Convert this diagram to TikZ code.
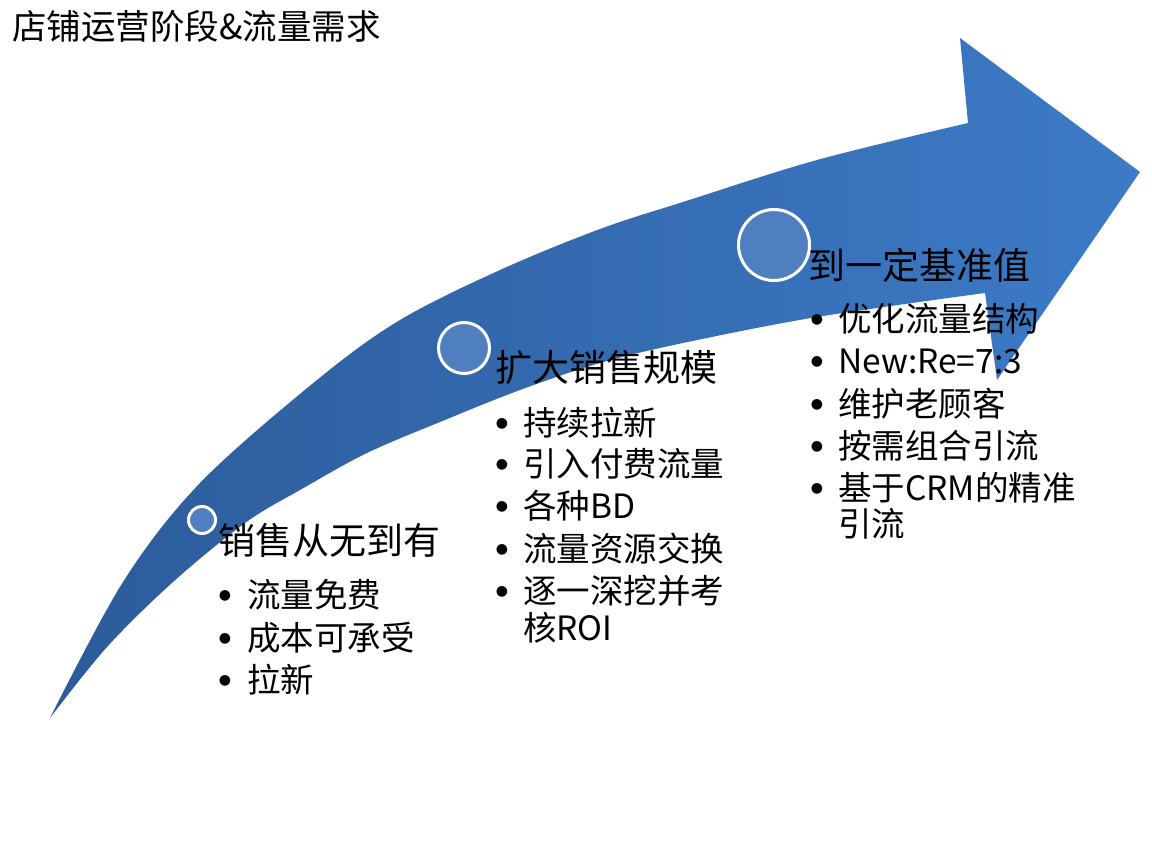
\documentclass[tikz,border=0pt]{standalone}
\usepackage{fontspec}
\setmainfont{Noto Sans CJK SC}
\newfontfamily\dotfont{DejaVu Sans}
\definecolor{arrowdark}{HTML}{2C5B9A}
\definecolor{arrowlight}{HTML}{3D7BC7}
\definecolor{dotfill}{HTML}{4F7FBE}
\begin{document}
\begin{tikzpicture}[x=1pt,y=-1pt,
  titletext/.style={anchor=base west, inner sep=0pt, font=\fontsize{34.5}{36}\selectfont},
  heading/.style={anchor=base west, inner sep=0pt, font=\fontsize{37}{40}\selectfont},
  item/.style={anchor=base west, inner sep=0pt, font=\fontsize{33.5}{36}\selectfont},
  bulletmark/.style={anchor=center, inner sep=0pt, font=\dotfont\fontsize{14}{16}\selectfont},
  stagedot/.style={circle, fill=dotfill, draw=white, line width=3pt, inner sep=0pt}]
\useasboundingbox (0,0) rectangle (1152,864);
% curved arrow
\shade[left color=arrowdark, right color=arrowlight]
  (50,718) -- plot[smooth, tension=0.55] coordinates {(50,718) (123,582) (200,483) (317,380) (400,320) (500,270) (600,229) (683,202) (817,160) (968,123)}
  -- (960,38) -- (1140,172) -- (997,380)
  -- plot[smooth, tension=0.55] coordinates {(985,293) (817,317) (683,343) (600,363) (520,390) (440,422) (367,453) (300,490) (245,523) (173,582) (107,647) (50,718)}
  -- cycle;
% stage dots
\node[stagedot, minimum size=27] (c1) at (202,520) {};
\node[stagedot, minimum size=51] (c2) at (464,348) {};
\node[stagedot, minimum size=71] (c3) at (774,245) {};
% title
\node[titletext] (title) at (12,40) {店铺运营阶段\&流量需求};
% stage 1
\node[heading] (h1) at (218,554) {销售从无到有};
\node[bulletmark] (b11) at (225,596) {●};
\node[item] (t11) at (247,607) {流量免费};
\node[bulletmark] (b12) at (225,639) {●};
\node[item] (t12) at (247,650) {成本可承受};
\node[bulletmark] (b13) at (225,681) {●};
\node[item] (t13) at (247,692) {拉新};
% stage 2
\node[heading] (h2) at (495,381) {扩大销售规模};
\node[bulletmark] (b21) at (502,424) {●};
\node[item] (t21) at (523,435) {持续拉新};
\node[bulletmark] (b22) at (502,465) {●};
\node[item] (t22) at (523,476) {引入付费流量};
\node[bulletmark] (b23) at (502,507) {●};
\node[item] (t23) at (523,518) {各种BD};
\node[bulletmark] (b24) at (502,550) {●};
\node[item] (t24) at (523,561) {流量资源交换};
\node[bulletmark] (b25) at (502,592) {●};
\node[item] (t25) at (523,603) {逐一深挖并考};
\node[item] (t26) at (523,640) {核ROI};
% stage 3
\node[heading] (h3) at (808,279) {到一定基准值};
\node[bulletmark] (b31) at (817,320) {●};
\node[item] (t31) at (838,331) {优化流量结构};
\node[bulletmark] (b32) at (817,362) {●};
\node[item] (t32) at (838,373) {New:Re=7:3};
\node[bulletmark] (b33) at (817,405) {●};
\node[item] (t33) at (838,416) {维护老顾客};
\node[bulletmark] (b34) at (817,447) {●};
\node[item] (t34) at (838,458) {按需组合引流};
\node[bulletmark] (b35) at (817,489) {●};
\node[item] (t35) at (838,500) {基于CRM的精准};
\node[item] (t36) at (838,536) {引流};
\end{tikzpicture}
\end{document}
